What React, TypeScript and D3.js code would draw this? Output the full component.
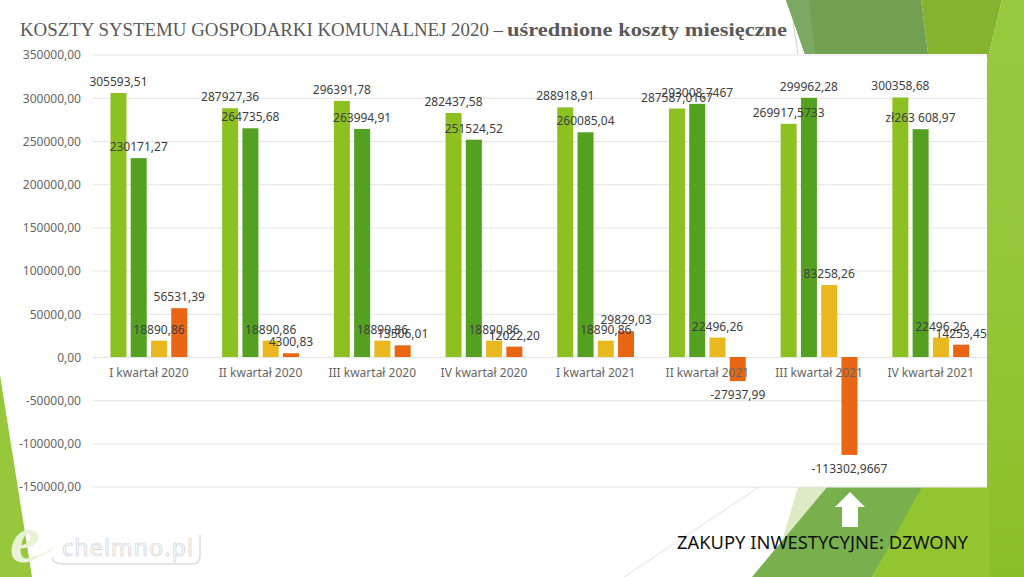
import { useEffect, useRef } from "react";
import * as d3 from "d3";

const quarters = [
  "I kwartał 2020",
  "II kwartał 2020",
  "III kwartał 2020",
  "IV kwartał 2020",
  "I kwartał 2021",
  "II kwartał 2021",
  "III kwartał 2021",
  "IV kwartał 2021",
];

const seriesA = [305593.51, 287927.36, 296391.78, 282437.58, 288918.91, 287587.0167, 269917.5733, 300358.68];
const seriesB = [230171.27, 264735.68, 263994.91, 251524.52, 260085.04, 293008.7467, 299962.28, 263608.97];
const seriesC = [18890.86, 18890.86, 18890.86, 18890.86, 18890.86, 22496.26, 83258.26, 22496.26];
const seriesD = [56531.39, 4300.83, 13506.01, 12022.2, 29829.03, -27937.99, -113302.9667, 14253.45];

const labelsA = ["305593,51", "287927,36", "296391,78", "282437,58", "288918,91", "287587,0167", "269917,5733", "300358,68"];
const labelsB = ["230171,27", "264735,68", "263994,91", "251524,52", "260085,04", "293008,7467", "299962,28", "zł263 608,97"];
const labelsC = ["18890,86", "18890,86", "18890,86", "18890,86", "18890,86", "22496,26", "83258,26", "22496,26"];
const labelsD = ["56531,39", "4300,83", "13506,01", "12022,20", "29829,03", "-27937,99", "-113302,9667", "14253,45"];

const seriesValues = [seriesA, seriesB, seriesC, seriesD];
const seriesLabels = [labelsA, labelsB, labelsC, labelsD];
const seriesColors = ["#8dc021", "#54a021", "#e8b81e", "#e96615"];
const yTicks = [350000, 300000, 250000, 200000, 150000, 100000, 50000, 0, -50000, -100000, -150000];

const FONT = "'Noto Sans', sans-serif";
const SERIF = "'Liberation Serif', serif";

const App = () => {
  const svgRef = useRef<SVGSVGElement | null>(null);

  useEffect(() => {
    const root = d3.select(svgRef.current);
    root.selectAll("*").remove();

    const grad = root
      .append("defs")
      .append("linearGradient")
      .attr("id", "rightSide")
      .attr("gradientUnits", "userSpaceOnUse")
      .attr("x1", 0)
      .attr("y1", 0)
      .attr("x2", 0)
      .attr("y2", 577);
    grad.append("stop").attr("offset", "0").attr("stop-color", "#97c93e");
    grad.append("stop").attr("offset", "0.5").attr("stop-color", "#94c738");
    grad.append("stop").attr("offset", "1").attr("stop-color", "#8bbf27");

    // tlo slajdu
    const bg = root.append("g");
    const shape = (pts: string, fill: string) => bg.append("polygon").attr("points", pts).attr("fill", fill);
    shape("0,375 32,577 0,577", "#97c83c");
    shape("786,0 921,0 929,60 807,60", "#739f52");
    shape("786,0 809,0 816,60 807,60", "#7ba862");
    shape("921,0 1002,0 985,70 929,60", "#85b22f");
    shape("1002,0 1024,0 1024,577 980,577 985,70", "url(#rightSide)");
    shape("798,487 827,487 782,541", "#dcebc4");
    shape("827,487 925,487 872,577 752,577", "#77b04d");
    shape("922,487 990,487 990,577 872,577", "#92c52f");
    bg.append("line").attr("x1", 759).attr("y1", 487).attr("x2", 624).attr("y2", 577).attr("stroke", "#e2e2e2");
    bg.append("line").attr("x1", 793).attr("y1", 22).attr("x2", 798).attr("y2", 54).attr("stroke", "#d0d0d0");

    // biale tlo wykresu
    root.append("rect").attr("x", 20).attr("y", 54).attr("width", 967).attr("height", 433).attr("fill", "#fff");

    const x = d3.scaleBand().domain(quarters).range([93, 986.6]);
    const x1 = d3.scaleBand<number>().domain([0, 1, 2, 3]).range([-38.4, 38.4]).paddingInner(0.21);
    const y = d3.scaleLinear().domain([-150000, 350000]).range([486.6, 54.6]);

    // Y os z siatka
    const yAxis = root
      .append("g")
      .attr("transform", "translate(93,0)")
      .call(
        d3
          .axisLeft(y)
          .tickValues(yTicks)
          .tickSize(-893.6)
          .tickPadding(12)
          .tickFormat((d) => (+d).toFixed(2).replace(".", ","))
      );
    yAxis.select(".domain").remove();
    yAxis.selectAll(".tick line").attr("stroke", "#e4e4e4");
    yAxis.selectAll("text").attr("fill", "#666").attr("font-size", 12).attr("font-family", FONT).attr("dy", "0.36em");

    // slupki
    seriesValues.forEach((values, s) => {
      root
        .append("g")
        .selectAll("rect")
        .data(values)
        .enter()
        .append("rect")
        .attr("x", (_, i) => x(quarters[i])! + x.bandwidth() / 2 + x1(s)!)
        .attr("y", (d) => y(Math.max(0, d)))
        .attr("width", x1.bandwidth())
        .attr("height", (d) => Math.abs(y(d) - y(0)))
        .attr("fill", seriesColors[s]);
    });

    // X os - podpisy przy zerze
    const xAxis = root
      .append("g")
      .attr("transform", `translate(0,${y(0)})`)
      .call(d3.axisBottom(x).tickSize(0).tickPadding(11));
    xAxis.select(".domain").remove();
    xAxis.selectAll("text").attr("fill", "#666").attr("font-size", 12).attr("font-family", FONT);

    // etykiety wartosci
    seriesValues.forEach((values, s) => {
      root
        .append("g")
        .selectAll("text")
        .data(values)
        .enter()
        .append("text")
        .attr("x", (_, i) => x(quarters[i])! + x.bandwidth() / 2 + x1(s)! + x1.bandwidth() / 2)
        .attr("y", (d) => (d < 0 ? y(d) + 18 : y(d) - 7))
        .attr("text-anchor", "middle")
        .attr("fill", "#404040")
        .attr("font-size", 12)
        .attr("font-family", FONT)
        .text((_, i) => seriesLabels[s][i]);
    });

    // tytul
    root
      .append("text")
      .attr("x", 20)
      .attr("y", 36)
      .attr("textLength", 483)
      .attr("lengthAdjust", "spacingAndGlyphs")
      .attr("font-family", SERIF)
      .attr("font-size", 19)
      .attr("fill", "#595959")
      .text("KOSZTY SYSTEMU GOSPODARKI KOMUNALNEJ 2020 –");
    root
      .append("text")
      .attr("x", 507)
      .attr("y", 36)
      .attr("textLength", 280)
      .attr("lengthAdjust", "spacingAndGlyphs")
      .attr("font-family", SERIF)
      .attr("font-size", 19)
      .attr("font-weight", "bold")
      .attr("fill", "#595959")
      .text("uśrednione koszty miesięczne");

    // strzalka i podpis
    root.append("path").attr("d", "M850,492 L865,507 L858,507 L858,527 L842,527 L842,507 L835,507 Z").attr("fill", "#fff");
    root
      .append("text")
      .attr("x", 677)
      .attr("y", 549)
      .attr("textLength", 291)
      .attr("lengthAdjust", "spacingAndGlyphs")
      .attr("font-family", FONT)
      .attr("font-size", 18.5)
      .attr("fill", "#111")
      .text("ZAKUPY INWESTYCYJNE: DZWONY");

    // logo
    const logo = root.append("g");
    logo
      .append("path")
      .attr("d", "M200,535 L200,556 Q200,564 192,564 L62,564 Q54,564 52,558")
      .attr("fill", "none")
      .attr("stroke", "#dcdcdc")
      .attr("stroke-width", 1.5);
    logo
      .append("path")
      .attr("d", "M30,559 Q42,556 52,549")
      .attr("fill", "none")
      .attr("stroke", "#e8f2d4")
      .attr("stroke-width", 1.5);
    logo
      .append("text")
      .attr("x", 10)
      .attr("y", 562)
      .attr("font-family", SERIF)
      .attr("font-style", "italic")
      .attr("font-weight", "bold")
      .attr("font-size", 68)
      .attr("fill", "#e8f2d4")
      .text("e");
    logo
      .append("text")
      .attr("x", 62)
      .attr("y", 556)
      .attr("textLength", 131)
      .attr("font-family", FONT)
      .attr("font-size", 23)
      .attr("fill", "#fff")
      .attr("stroke", "#cfcfcf")
      .attr("stroke-width", 0.7)
      .text("chelmno.pl");
  }, []);

  return <svg ref={svgRef} width={1024} height={577} style={{ position: "absolute", left: 0, top: 0, background: "#fff" }} />;
};

export default App;
